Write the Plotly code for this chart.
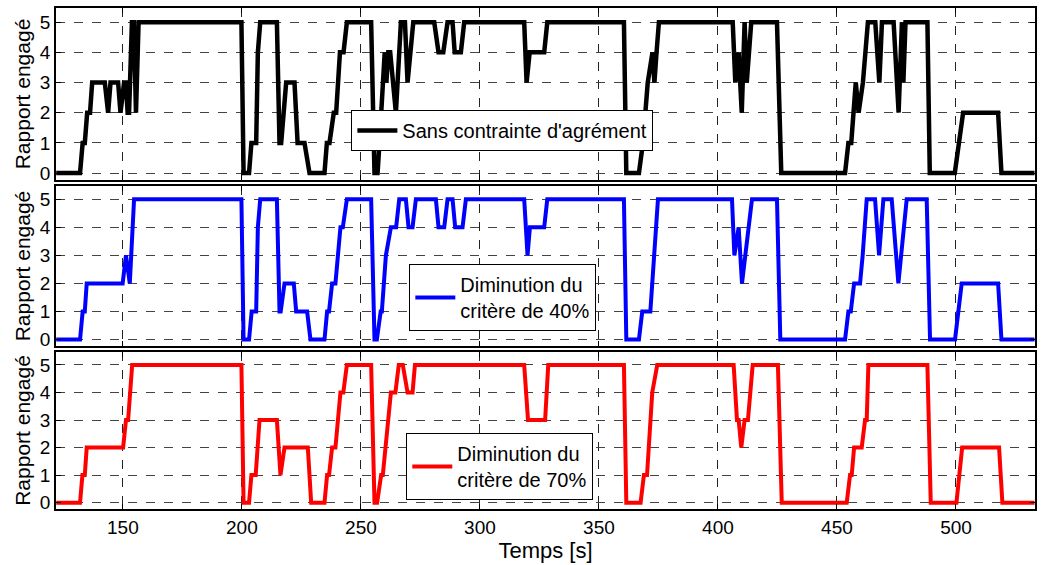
import plotly.graph_objects as go

# ---------------- data ----------------
t_sans = [122, 132, 133.1, 134, 135, 136.2, 137.1, 142.4, 143.8, 144.8, 148, 149, 150.5, 151.2, 152, 152.6,
          153.8, 154.6, 155.5, 156.6, 199.8, 200.7, 203, 204, 206, 206.7, 207.7, 214.7, 215.8, 216.5,
          218.6, 222.1, 223.4, 226.3, 228.4, 234.7, 235.7, 236.8, 238.6, 239.6, 241.2, 242.7, 244.1,
          254.3, 255.7, 257, 257.8, 259.1, 260, 260.7, 261.5, 262.3, 264.7, 266.8, 268.5, 269.6, 272,
          280.8, 282.6, 284.6, 286.4, 288.5, 289.4, 292, 293.4, 318.6, 319.6, 320.9, 327, 328.3, 360.5,
          361.5, 366.8, 368.5, 370.5, 372.5, 373.3, 374.2, 375.2, 406.2, 407.3, 408.7, 410, 411.2, 412.1,
          414, 424.8, 426.6, 453.4, 454.8, 456, 457.9, 459.1, 460.9, 463, 466.1, 467.8, 468.9, 473.8,
          475.9, 477.3, 477.9, 478.8, 488, 489, 499.5, 503, 517.7, 519.1, 533]
r_sans = [0, 0, 1, 1, 2, 2, 3, 3, 2, 3, 3, 2, 3, 3, 2, 2,
          5, 5, 2, 5, 5, 0, 0, 1, 1, 4, 5, 5, 1, 1,
          3, 3, 1, 1, 0, 0, 1, 1, 2, 2, 4, 4, 5,
          5, 0, 0, 1, 3, 4, 3, 4, 4, 2, 5, 5, 3, 5,
          5, 4, 4, 5, 5, 4, 4, 5, 5, 3, 4, 4, 5, 5,
          0, 0, 1, 3, 4, 3, 4, 5, 5, 3, 4, 2, 5, 3,
          5, 5, 0, 0, 1, 1, 3, 2, 3, 5, 5, 3, 5, 5,
          2, 5, 3, 5, 5, 0, 0, 2, 2, 0, 0]

t_40 = [122, 132, 133.1, 134, 134.8, 149.9, 151.3, 152.9, 154.7, 199.8, 200.7, 203, 204.1, 206, 206.7,
        207.7, 214.7, 215.8, 216.3, 217.9, 221.8, 222.8, 227.4, 228.8, 234.7, 235.8, 236.6, 237.9,
        239.3, 241.4, 242.4, 244.1, 254.3, 255.7, 256.7, 258.3, 258.8, 260.5, 262.6, 264.8, 266.1,
        268.9, 270, 271.7, 273.1, 281.5, 282.6, 285, 286.4, 288.5, 289.6, 292.7, 294.1, 318.6, 320,
        321, 327, 328.3, 360.5, 361.5, 366.8, 368.2, 371.6, 373, 374.8, 405.9, 406.9, 408.7, 410.1,
        411.5, 414.3, 424.8, 426.2, 453.4, 454.8, 455.8, 457.2, 459.7, 460.8, 462.5, 466.0, 467.7,
        469.5, 473.0, 475.8, 479.3, 487.7, 489.1, 499.6, 502.4, 517.7, 519.1, 533]
r_40 = [0, 0, 1, 1, 2, 2, 3, 2, 5, 5, 0, 0, 1, 1, 4,
        5, 5, 1, 1, 2, 2, 1, 1, 0, 0, 1, 1, 2,
        2, 4, 4, 5, 5, 0, 0, 1, 1, 3, 4, 4, 5,
        5, 4, 4, 5, 5, 4, 4, 5, 5, 4, 4, 5, 5, 3,
        4, 4, 5, 5, 0, 0, 1, 1, 3, 5, 5, 3, 4, 2,
        3, 5, 5, 0, 0, 1, 1, 2, 2, 3, 5, 5, 3,
        5, 5, 2, 5, 5, 0, 0, 2, 2, 0, 0]

t_70 = [122, 132, 133, 134, 134.8, 150.1, 151.3, 152.2, 153.9, 199.8, 200.7, 203, 204, 205.8, 207.4,
        214.7, 216.2, 217.9, 227.7, 229.1, 234.7, 235.8, 236.6, 237.9, 239.3, 241.4, 242.6, 244.1,
        254.3, 255.7, 256.8, 258.5, 259.2, 261.2, 262.6, 264.5, 265.9, 267.6, 269.6, 271.7, 272.7,
        318.6, 320.2, 327.4, 328.7, 360.5, 361.5, 367.5, 368.9, 370.2, 372.4, 374.5, 406.6, 408,
        408.7, 409.8, 411.2, 412.6, 414.6, 425.2, 426.8, 454.1, 455.5, 456.2, 457.2, 460.4, 461.8,
        462.5, 463.2, 488, 489.4, 500.2, 502.6, 518.1, 519.5, 533]
r_70 = [0, 0, 1, 1, 2, 2, 3, 3, 5, 5, 0, 0, 1, 1, 3,
        3, 1, 2, 2, 0, 0, 1, 1, 2, 2, 4, 4, 5,
        5, 0, 0, 1, 1, 3, 4, 4, 5, 5, 4, 4, 5,
        5, 3, 3, 5, 5, 0, 0, 1, 1, 4, 5, 5, 3,
        3, 2, 3, 3, 5, 5, 0, 0, 1, 1, 2, 2, 3,
        3, 5, 5, 0, 0, 2, 2, 0, 0]

series_names = ["Sans contrainte d'agrément", "Diminution du<br>critère de 40%", "Diminution du<br>critère de 70%"]
series_colors = ["#000000", "#0000FF", "#FF0000"]

x_ticks = [150, 200, 250, 300, 350, 400, 450, 500]
y_ticks = [0, 1, 2, 3, 4, 5]
x_title = "Temps [s]"
y_title = "Rapport engagé"

# ---------------- figure ----------------
FONT = "Liberation Sans, Arial, sans-serif"
fig = go.Figure()

data = [(t_sans, r_sans), (t_40, r_40), (t_70, r_70)]
widths = [4.5, 4, 4]
legends = ["legend", "legend2", "legend3"]
for i, (tt, rr) in enumerate(data):
    fig.add_trace(go.Scatter(
        x=tt, y=rr, mode="lines", name=series_names[i],
        line=dict(color=series_colors[i], width=widths[i]),
        xaxis="x" if i == 0 else f"x{i+1}",
        yaxis="y" if i == 0 else f"y{i+1}",
        legend=legends[i], showlegend=True,
    ))

domains = [[0.6567, 1.0], [0.3253, 0.6447], [0.0, 0.3134]]
xr = [121.9, 533.2]
yr = [-0.23, 5.47]

common_x = dict(range=xr, tickvals=x_ticks, showgrid=True, gridcolor="#222222", griddash="dash",
                gridwidth=1, zeroline=False, showline=True, mirror="ticks", linecolor="black",
                linewidth=1.5, ticks="inside", ticklen=5, tickcolor="black",
                tickfont=dict(family=FONT, size=19, color="black"))
common_y = dict(range=yr, tickvals=y_ticks, showgrid=True, gridcolor="#444444", griddash="dash",
                gridwidth=1, zeroline=False, showline=True, mirror="ticks", linecolor="black",
                linewidth=1.5, ticks="inside", ticklen=5, tickcolor="black",
                tickfont=dict(family=FONT, size=19, color="black"),
                title=dict(text=y_title, font=dict(family=FONT, size=21, color="black"), standoff=4))

layout = dict(
    width=1041, height=565, autosize=False,
    margin=dict(l=56, r=4, t=8, b=56),
    paper_bgcolor="white", plot_bgcolor="white",
    font=dict(family=FONT, color="black"),
)
for i in range(3):
    xs = "xaxis" if i == 0 else f"xaxis{i+1}"
    ys = "yaxis" if i == 0 else f"yaxis{i+1}"
    ax = dict(common_x)
    ax["anchor"] = "y" if i == 0 else f"y{i+1}"
    if i < 2:
        ax["showticklabels"] = False
    else:
        ax["title"] = dict(text=x_title, font=dict(family=FONT, size=22, color="black"), standoff=2)
    if i > 0:
        ax["matches"] = "x"
    ay = dict(common_y)
    ay["domain"] = domains[i]
    ay["anchor"] = "x" if i == 0 else f"x{i+1}"
    layout[xs] = ax
    layout[ys] = ay

leg_common = dict(bgcolor="white", bordercolor="black", borderwidth=1,
                  font=dict(family=FONT, size=20, color="black"),
                  xanchor="left", yanchor="top", itemwidth=40)
layout["legend"] = dict(leg_common, x=0.3017, y=0.7964)
layout["legend2"] = dict(leg_common, x=0.3609, y=0.489)
layout["legend3"] = dict(leg_common, x=0.3578, y=0.1517)

fig.update_layout(**layout)

fig.write_html("out.html", config={"displayModeBar": False},
               post_script="document.body.style.margin='0';document.body.style.overflow='hidden';")
